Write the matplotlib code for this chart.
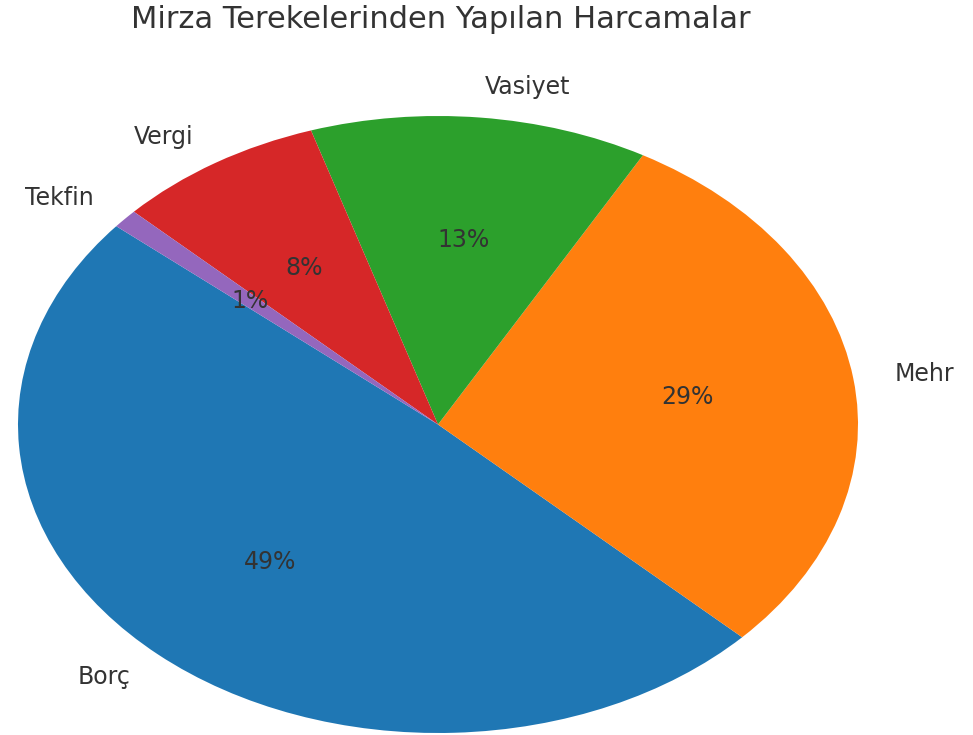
import matplotlib
matplotlib.use("Agg")
import matplotlib.pyplot as plt

labels = ["Borç", "Mehr", "Vasiyet", "Vergi", "Tekfin"]
values = [49, 29, 13, 8, 1]
colors = ["#1f77b4", "#ff7f0e", "#2ca02c", "#d62728", "#9467bd"]

fig = plt.figure(figsize=(9.73, 7.35), dpi=100)
# pie is stretched sideways in the reference, so axes are not square
ax = fig.add_axes([18 / 973, 2 / 735, 840 / 973, 617 / 735])
wedges, texts, autotexts = ax.pie(values, labels=labels, colors=colors,
                                  autopct="%1.0f%%", startangle=140,
                                  textprops={"fontsize": 17, "color": "#333333"})
ax.set_aspect("auto")
ax.set_xlim(-1, 1)
ax.set_ylim(-1, 1)

fig.text(441 / 973, 1 - 19 / 735, "Mirza Terekelerinden Yapılan Harcamalar",
         ha="center", va="center", fontsize=22, color="#333333")

fig.savefig("out.png", dpi=100)
